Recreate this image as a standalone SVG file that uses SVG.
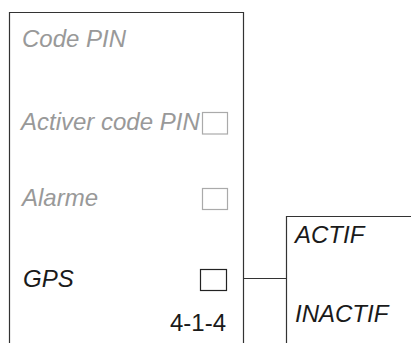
<svg xmlns="http://www.w3.org/2000/svg" width="411" height="343" viewBox="0 0 411 343">
<style>
.t{font-family:"Liberation Sans",Arial,sans-serif;font-size:24px}
.i{font-style:italic}
.g{fill:#999}
.k{fill:#1a1a1a}
.frame{fill:none;stroke:#333;stroke-width:1.2}
.cbg{fill:#fff;stroke:#aaa;stroke-width:1.2}
.cbk{fill:#fff;stroke:#222;stroke-width:1.2}
</style>
<rect width="411" height="343" fill="#fff"/>
<g id="menu">
<path class="frame" d="M9.5,343 V12.5 H243.5 V343"/>
<text class="t i g" x="22" y="47">Code PIN</text>
<text class="t i g" x="21" y="130">Activer code PIN</text>
<rect class="cbg" x="202.5" y="112.5" width="25" height="21.5"/>
<text class="t i g" x="22" y="206">Alarme</text>
<rect class="cbg" x="202.5" y="188.5" width="25" height="21"/>
<text class="t i k" x="23" y="287">GPS</text>
<rect class="cbk" x="200.5" y="269.5" width="26" height="21"/>
<text class="t k" x="226" y="331" text-anchor="end">4-1-4</text>
</g>
<g id="options">
<path class="frame" d="M286.5,343 V216.5 H411"/>
<text class="t i k" x="295" y="243">ACTIF</text>
<text class="t i k" x="295" y="322">INACTIF</text>
</g>
<g id="connectors">
<line class="frame" x1="243.5" y1="278.5" x2="286.5" y2="278.5"/>
</g>
</svg>
